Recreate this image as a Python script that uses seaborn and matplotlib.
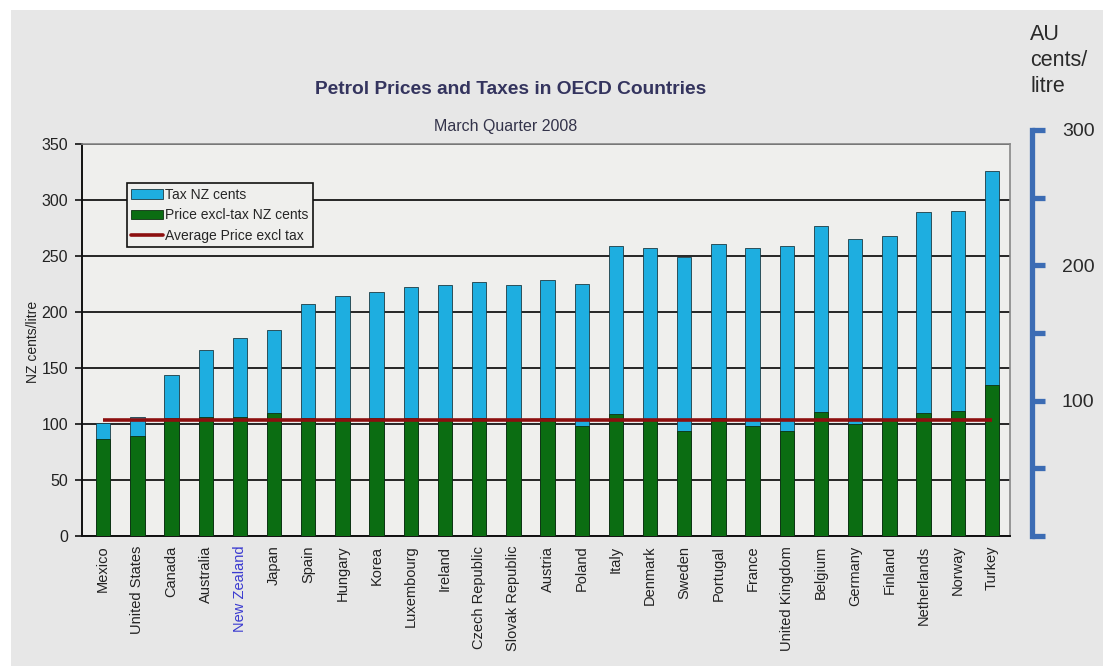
import seaborn as sns
import matplotlib.pyplot as plt
from matplotlib.patches import Patch, Rectangle
from matplotlib.lines import Line2D
from matplotlib.ticker import MultipleLocator

sns.set_style('white')
plt.rcParams['font.family'] = ['Liberation Sans', 'DejaVu Sans']

countries = ["Mexico", "United States", "Canada", "Australia", "New Zealand", "Japan",
             "Spain", "Hungary", "Korea", "Luxembourg", "Ireland", "Czech Republic",
             "Slovak Republic", "Austria", "Poland", "Italy", "Denmark", "Sweden",
             "Portugal", "France", "United Kingdom", "Belgium", "Germany", "Finland",
             "Netherlands", "Norway", "Turkey"]
price_excl_tax = [87, 89, 105, 106, 106, 110, 105, 105, 105, 105, 104, 105, 104, 105,
                  98, 109, 104, 94, 105, 98, 94, 111, 100, 104, 110, 112, 135]
tax = [14, 17, 39, 60, 71, 74, 102, 109, 113, 117, 120, 122, 120, 124,
       127, 150, 153, 155, 156, 159, 165, 166, 165, 164, 179, 178, 191]
avg_price = 104
au_ticks = [0, 50, 100, 150, 200, 250, 300]
au_labels = ["", "", "100", "", "200", "", "300"]

total = [p + t for p, t in zip(price_excl_tax, tax)]

blue = "#1eaee0"
green = "#0b6d12"
red = "#8c0f0f"
bg = "#e7e7e7"

fig = plt.figure(figsize=(11.03, 6.66), dpi=100, facecolor="white")
fig.patches.append(Rectangle((11 / 1103, 0), 1, 1 - 10 / 666, transform=fig.transFigure,
                             facecolor=bg, edgecolor="none", zorder=-10))

ax = fig.add_axes([82 / 1103, 130 / 666, 928 / 1103, 392 / 666])
ax.set_facecolor("#efefed")

# stacked bars: total in blue, price excl tax over it in green
sns.barplot(x=countries, y=total, color=blue, width=0.42, edgecolor="#1c3c44",
            linewidth=0.6, saturation=1, ax=ax, zorder=3)
sns.barplot(x=countries, y=price_excl_tax, color=green, width=0.42, edgecolor="#0d3010",
            linewidth=0.6, saturation=1, ax=ax, zorder=3)
ax.hlines(avg_price, 0, len(countries) - 1, color=red, lw=2.6, zorder=4)

ax.set_ylim(0, 350)
ax.set_xlim(-0.62, len(countries) - 0.47)
ax.yaxis.set_major_locator(MultipleLocator(50))
ax.grid(axis="y", color="#151515", lw=1.3, zorder=1)
ax.set_axisbelow(True)

for s in ["left", "bottom"]:
    ax.spines[s].set_color("#111111")
    ax.spines[s].set_linewidth(1.4)
for s in ["top", "right"]:
    ax.spines[s].set_color("#888888")
    ax.spines[s].set_linewidth(1.2)

ax.set_xticks(range(len(countries)))
ax.set_xticklabels(countries, rotation=90, fontsize=10.5, color="#222222")
ax.set_xticks([i - 0.5 for i in range(len(countries) + 1)], minor=True)
ax.tick_params(axis="x", which="major", length=0, pad=7)
ax.tick_params(axis="x", which="minor", length=5, width=1.2, direction="out", color="#111111")
ax.tick_params(axis="y", length=5, width=1.2, direction="out", color="#111111",
               labelsize=11.5, labelcolor="#222222", pad=5, left=True)
ax.get_xticklabels()[countries.index("New Zealand")].set_color("#3a3ad0")
ax.set_xlabel("")
ax.set_ylabel("")

handles = [Patch(facecolor=blue, edgecolor="#1c3c44", lw=0.6),
           Patch(facecolor=green, edgecolor="#0d3010", lw=0.6),
           Line2D([0], [0], color=red, lw=2.6)]
leg = ax.legend(handles, ["Tax NZ cents", "Price excl-tax NZ cents", "Average Price excl tax"],
                loc="upper left", bbox_to_anchor=(0.048, 0.9), fontsize=10,
                frameon=True, fancybox=False, framealpha=1, edgecolor="#111111",
                facecolor="#efefed", handlelength=2.3, handletextpad=0.1,
                labelspacing=0.45, borderpad=0.35, borderaxespad=0)
leg.get_frame().set_linewidth(1.2)
leg.set_zorder(6)

fig.text(511 / 1103, 1 - 89 / 666, "Petrol Prices and Taxes in OECD Countries",
         ha="center", va="center", fontsize=13.8, fontweight="bold", color="#34345e")
fig.text(506 / 1103, 1 - 127 / 666, "March Quarter 2008", ha="center", va="center",
         fontsize=11.5, color="#33334a")
fig.text(33 / 1103, 1 - 342 / 666, "NZ cents/litre", rotation=90, ha="center",
         va="center", fontsize=10, color="#222222")

# Australian cents scale on the right
ax2 = fig.add_axes([1032 / 1103, 130 / 666, 0.03, 406 / 666])
ax2.set_facecolor("none")
ax2.set_ylim(0, 300)
ax2.set_xticks([])
ax2.set_yticks(au_ticks)
ax2.set_yticklabels(au_labels)
for s in ["left", "top", "bottom"]:
    ax2.spines[s].set_visible(False)
ax2.spines["right"].set_position(("axes", 0))
ax2.spines["right"].set_color("#3c6cb4")
ax2.spines["right"].set_linewidth(3.8)
ax2.yaxis.tick_right()
ax2.tick_params(axis="y", direction="out", length=9.5, width=3.8, color="#3c6cb4",
                labelsize=14, labelcolor="#2a2a2a", pad=12)
fig.text(1030 / 1103, 1 - 24 / 666, "AU\ncents/\nlitre", ha="left", va="top",
         fontsize=15.5, color="#2a2a2a", linespacing=1.3)

fig.savefig("out.png", dpi=100, facecolor=fig.get_facecolor())
